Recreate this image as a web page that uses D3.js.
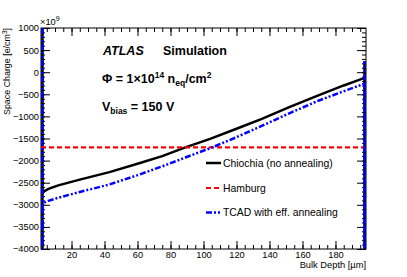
<!DOCTYPE html>
<html>
<head>
<meta charset="utf-8">
<script src="https://cdn.jsdelivr.net/npm/d3@7"></script>
<style>
  body { margin: 0; background: #fff; }
  svg { font-family: "Liberation Sans", Arial, sans-serif; }
</style>
</head>
<body>
<svg id="chart" width="407" height="277"></svg>
<script>
// bulk depth [um] and space charge [1e9 e/cm3]
var depth    = [2.4, 3, 6, 12, 25, 43, 60, 75, 89, 104, 120, 135, 152, 170, 185, 197.6];
var chiochia = [-2760, -2700, -2640, -2560, -2430, -2260, -2070, -1900, -1700, -1510, -1280, -1060, -790, -520, -300, -130];
var tcad     = [-3000, -2960, -2910, -2840, -2710, -2540, -2330, -2130, -1930, -1720, -1470, -1220, -930, -640, -430, -260];
var hamburg  = -1700;
// the simulated curves blow up at the two electrodes
var edgeLeft  = [1000, -4000];
var edgeRight = [-4000, 250];

var xTicks = [20, 40, 60, 80, 100, 120, 140, 160, 180];
var yTicks = [-4000, -3500, -3000, -2500, -2000, -1500, -1000, -500, 0, 500, 1000];

var legendNames = ["Chiochia (no annealing)", "Hamburg", "TCAD with eff. annealing"];

var margin = {left: 41, right: 41, top: 28, bottom: 28};
var W = 407, H = 277;

var x = d3.scaleLinear().domain([1.5, 198.5]).range([margin.left, W - margin.right]);
var y = d3.scaleLinear().domain([-4000, 1000]).range([H - margin.bottom, margin.top]);

var svg = d3.select('#chart');

svg.append('clipPath').attr('id', 'clip')
   .append('rect')
   .attr('x', x.range()[0]).attr('y', y.range()[1])
   .attr('width', x.range()[1] - x.range()[0])
   .attr('height', y.range()[0] - y.range()[1]);

function series(vals){
  var pts = [[depth[0], edgeLeft[0]], [depth[0], edgeLeft[1]]];
  depth.forEach(function(d, i){ pts.push([d, vals[i]]); });
  var last = depth[depth.length - 1];
  pts.push([last, edgeRight[0]]);
  pts.push([last, edgeRight[1]]);
  return pts;
}

var line = d3.line().x(function(d){ return x(d[0]); }).y(function(d){ return y(d[1]); });

var plot = svg.append('g').attr('clip-path', 'url(#clip)');

plot.append('path').datum(series(chiochia))
    .attr('d', line).attr('fill', 'none')
    .attr('stroke', '#000').attr('stroke-width', 2.5);

plot.append('line')
    .attr('x1', x.range()[0]).attr('x2', x.range()[1])
    .attr('y1', y(hamburg)).attr('y2', y(hamburg))
    .attr('stroke', '#ff0000').attr('stroke-width', 2.2)
    .attr('stroke-dasharray', '5,3');

plot.append('path').datum(series(tcad))
    .attr('d', line).attr('fill', 'none')
    .attr('stroke', '#0000ff').attr('stroke-width', 2.5)
    .attr('stroke-dasharray', '6,2,2,2,2,2');

// axes, ROOT style: ticks on all four sides pointing inwards
var fs = 9.3;
var minorX = d3.range(5, 198, 5), minorY = d3.range(-3900, 1000, 100);

var gBottom = svg.append('g').attr('transform', 'translate(0,' + y.range()[0] + ')');
gBottom.call(d3.axisBottom(x).tickValues(minorX).tickSize(-4).tickFormat(''));
gBottom.append('g').call(d3.axisBottom(x).tickValues(xTicks).tickSize(-8).tickPadding(2));
var gTop = svg.append('g').attr('transform', 'translate(0,' + y.range()[1] + ')');
gTop.call(d3.axisTop(x).tickValues(minorX).tickSize(-4).tickFormat(''));
gTop.append('g').call(d3.axisTop(x).tickValues(xTicks).tickSize(-8).tickFormat(''));

var gLeft = svg.append('g').attr('transform', 'translate(' + x.range()[0] + ',0)');
gLeft.call(d3.axisLeft(y).tickValues(minorY).tickSize(-4).tickFormat(''));
gLeft.append('g').call(d3.axisLeft(y).tickValues(yTicks).tickSize(-9).tickPadding(2).tickFormat(d3.format('d')));
var gRight = svg.append('g').attr('transform', 'translate(' + x.range()[1] + ',0)');
gRight.call(d3.axisRight(y).tickValues(minorY).tickSize(-4).tickFormat(''));
gRight.append('g').call(d3.axisRight(y).tickValues(yTicks).tickSize(-9).tickFormat(''));

svg.selectAll('.domain').remove();
svg.selectAll('.tick line').attr('stroke', '#000').attr('stroke-width', 1);
svg.selectAll('.tick text').attr('font-size', fs).attr('font-family', '"Liberation Sans", Arial, sans-serif').attr('fill', '#000');

svg.append('rect')
   .attr('x', x.range()[0]).attr('y', y.range()[1])
   .attr('width', x.range()[1] - x.range()[0])
   .attr('height', y.range()[0] - y.range()[1])
   .attr('fill', 'none').attr('stroke', '#000').attr('stroke-width', 1);

// the line edges overlap the frame
plot.raise();

// exponent
var ex = svg.append('text').attr('x', 40).attr('y', 25).attr('font-size', fs);
ex.append('tspan').text('×10');
ex.append('tspan').attr('dy', -4).attr('font-size', 7).text('9');

// axis titles
svg.append('text').attr('x', x.range()[1]).attr('y', 268)
   .attr('text-anchor', 'end').attr('font-size', fs).text('Bulk Depth [µm]');

var yt = svg.append('text').attr('transform', 'translate(10,' + y.range()[1] + ') rotate(-90)')
   .attr('text-anchor', 'end').attr('font-size', 8.9);
yt.append('tspan').text('Space Charge [e/cm');
yt.append('tspan').attr('dy', -3.5).attr('font-size', 6.5).text('3');
yt.append('tspan').attr('dy', 3.5).text(']');

// labels
svg.append('text').attr('x', 103).attr('y', 55)
   .attr('font-size', 12.5).attr('font-weight', 'bold').attr('font-style', 'italic').text('ATLAS');
svg.append('text').attr('x', 163).attr('y', 55)
   .attr('font-size', 12.5).attr('font-weight', 'bold').text('Simulation');

var phi = svg.append('text').attr('x', 102).attr('y', 83).attr('font-size', 12.5).attr('font-weight', 'bold');
phi.append('tspan').text('Φ = 1×10');
phi.append('tspan').attr('dy', -5).attr('font-size', 8.5).text('14');
phi.append('tspan').attr('dy', 5).text(' n');
phi.append('tspan').attr('dy', 3).attr('font-size', 8.5).text('eq');
phi.append('tspan').attr('dy', -3).text('/cm');
phi.append('tspan').attr('dy', -5).attr('font-size', 8.5).text('2');

var vb = svg.append('text').attr('x', 102).attr('y', 111).attr('font-size', 12.5).attr('font-weight', 'bold');
vb.append('tspan').text('V');
vb.append('tspan').attr('dy', 3).attr('font-size', 8.5).text('bias');
vb.append('tspan').attr('dy', -3).text(' = 150 V');

// legend
var legY = [163, 188, 212.5];
var legStyle = [
  {c: '#000', dash: null, w: 2.5},
  {c: '#ff0000', dash: '5,3', w: 2.2},
  {c: '#0000ff', dash: '6,2,2,2,2,2', w: 2.5}
];
var leg = svg.append('g');
legendNames.forEach(function(n, i){
  var s = legStyle[i];
  leg.append('line').attr('x1', 206).attr('x2', 221)
     .attr('y1', legY[i]).attr('y2', legY[i])
     .attr('stroke', s.c).attr('stroke-width', s.w)
     .attr('stroke-dasharray', s.dash);
  leg.append('text').attr('x', 223).attr('y', legY[i] + 3.7)
     .attr('font-size', 10.4).text(n);
});
</script>
</body>
</html>
